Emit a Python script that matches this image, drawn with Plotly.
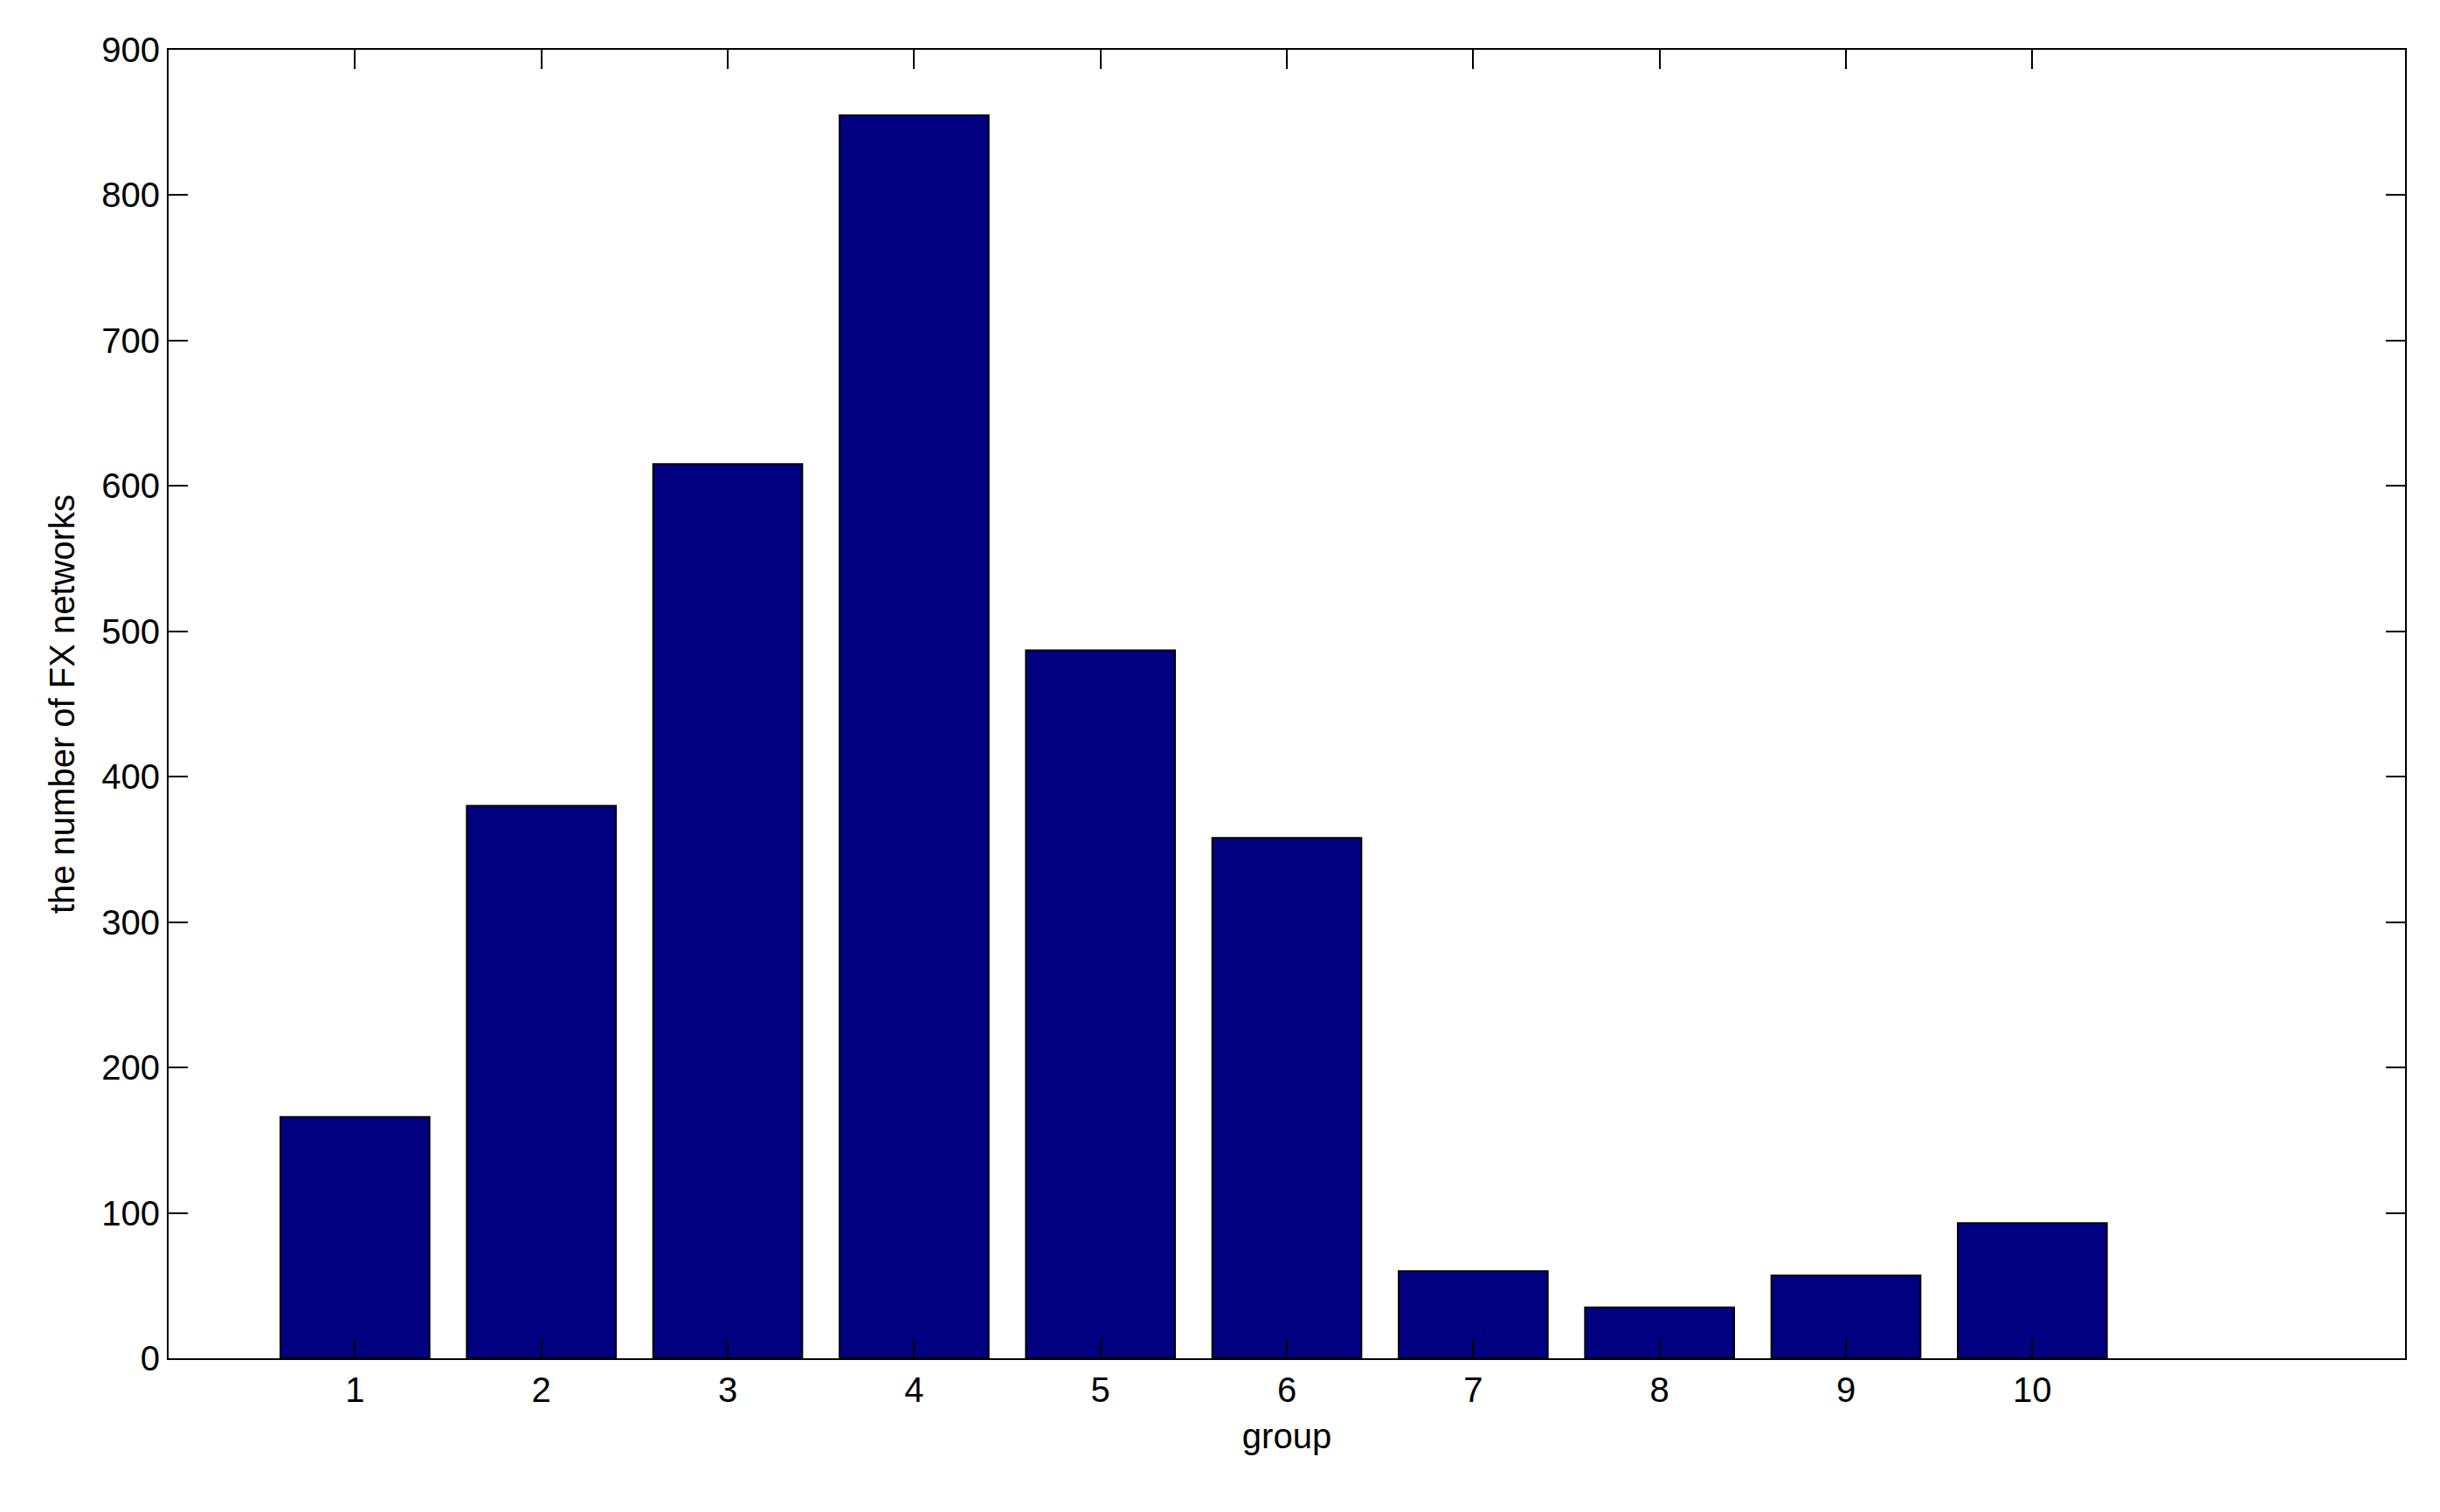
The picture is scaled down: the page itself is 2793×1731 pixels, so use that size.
import plotly.graph_objects as go

groups = [1, 2, 3, 4, 5, 6, 7, 8, 9, 10]
counts = [166, 380, 615, 855, 487, 358, 60, 35, 57, 93]
xticks = list(range(1, 11))
yticks = list(range(0, 901, 100))

fig = go.Figure(go.Bar(x=groups, y=counts, width=0.8,
                       marker=dict(color="#000080", line=dict(color="black", width=2))))
font = dict(family="Liberation Sans, Arial", size=40, color="black")
ax = dict(showgrid=False, zeroline=False, showline=True, linecolor="black", linewidth=2,
          mirror="ticks", ticks="inside", ticklen=22, tickcolor="black", tickwidth=2, tickfont=font)
fig.update_layout(
    width=2793, height=1731, paper_bgcolor="white", plot_bgcolor="white",
    margin=dict(l=185, r=48, t=49, b=184), showlegend=False,
    xaxis=dict(range=[0, 12], tickvals=xticks, title=dict(text="group", font=font, standoff=18), **ax),
    yaxis=dict(range=[0, 900], tickvals=yticks, title=dict(text="the number of FX networks", font=font, standoff=18), **ax),
)
fig.write_html("out.html")
